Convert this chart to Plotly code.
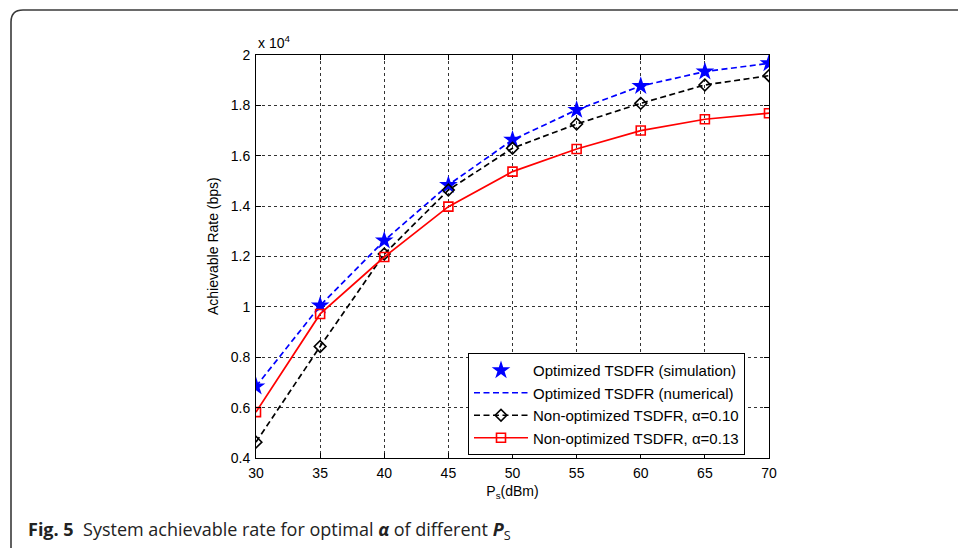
import plotly.graph_objects as go

# Transmit power P_s (dBm)
ps_dbm = [30, 35, 40, 45, 50, 55, 60, 65, 70]

# Achievable rate, in units of 10^4 bps
rate_opt_sim = [0.684, 1.005, 1.263, 1.484, 1.663, 1.782, 1.877, 1.934, 1.967]
rate_opt_num = [0.684, 1.005, 1.263, 1.484, 1.663, 1.782, 1.877, 1.934, 1.967]
rate_alpha_010 = [0.463, 0.843, 1.210, 1.464, 1.630, 1.726, 1.808, 1.881, 1.918]
rate_alpha_013 = [0.582, 0.972, 1.198, 1.398, 1.537, 1.627, 1.700, 1.745, 1.769]

y_ticks = [0.4, 0.6, 0.8, 1.0, 1.2, 1.4, 1.6, 1.8, 2.0]
y_tick_text = ["0.4", "0.6", "0.8", "1", "1.2", "1.4", "1.6", "1.8", "2"]
x_ticks = [30, 35, 40, 45, 50, 55, 60, 65, 70]

W, H = 958, 548
L, R, T, B = 256, 189, 55, 90
PW, PH = W - L - R, H - T - B


def xp(px):
    return (px - L) / PW


def yp(py):
    return (H - B - py) / PH


AXFONT = dict(family="Liberation Sans, Arial, sans-serif", size=14, color="black")
DASH = "6px,3.5px"

fig = go.Figure()

fig.add_trace(go.Scatter(
    x=ps_dbm, y=rate_opt_sim, mode="markers",
    name="Optimized TSDFR (simulation)",
    marker=dict(symbol="star", size=14, color="#0000ff", line=dict(width=0)),
))
fig.add_trace(go.Scatter(
    x=ps_dbm, y=rate_opt_num, mode="lines",
    name="Optimized TSDFR (numerical)",
    line=dict(color="#0000ff", width=1.7, dash=DASH),
))
fig.add_trace(go.Scatter(
    x=ps_dbm, y=rate_alpha_010, mode="lines+markers",
    name="Non-optimized TSDFR, α=0.10",
    line=dict(color="black", width=1.7, dash=DASH),
    marker=dict(symbol="diamond-open", size=9, color="black", line=dict(width=1.6)),
))
fig.add_trace(go.Scatter(
    x=ps_dbm, y=rate_alpha_013, mode="lines+markers",
    name="Non-optimized TSDFR, α=0.13",
    line=dict(color="#ff0000", width=1.7),
    marker=dict(symbol="square-open", size=9, color="#ff0000", line=dict(width=1.6)),
))

axis_common = dict(
    showline=True, linecolor="black", linewidth=1, mirror="allticks",
    ticks="inside", ticklen=5, tickcolor="black", tickwidth=1,
    showgrid=True, gridcolor="#333333", gridwidth=1, griddash="dot",
    zeroline=False, tickfont=AXFONT,
)

fig.update_xaxes(
    range=[30, 70], tickvals=x_ticks, ticklabelstandoff=2,
    title=dict(text="P<sub>s</sub>(dBm)", font=AXFONT, standoff=6),
    **axis_common,
)
fig.update_yaxes(
    range=[0.4, 2.0], tickvals=y_ticks, ticktext=y_tick_text, ticklabelstandoff=2,
    **axis_common,
)

fig.update_layout(
    width=W, height=H,
    margin=dict(l=L, r=R, t=T, b=B, pad=0),
    paper_bgcolor="white", plot_bgcolor="white",
    showlegend=True,
    legend=dict(
        x=xp(468), y=yp(353), xanchor="left", yanchor="top",
        bgcolor="white", bordercolor="black", borderwidth=1,
        font=dict(family="Liberation Sans, Arial, sans-serif", size=15, color="black"),
        itemwidth=54, tracegroupgap=0,
    ),
    shapes=[
        # rounded panel frame around the figure
        dict(
            type="path", xref="paper", yref="paper",
            path=(f"M {xp(11)},{yp(560)} L {xp(11)},{yp(22)} "
                  f"Q {xp(11)},{yp(10)} {xp(23)},{yp(10)} L {xp(970)},{yp(10)}"),
            line=dict(color="#3a3a3a", width=1.6),
        ),
    ],
    annotations=[
        dict(
            xref="paper", yref="paper", x=xp(213), y=yp(246), xanchor="center",
            yanchor="middle", textangle=-90, showarrow=False,
            text="Achievable Rate (bps)", font=AXFONT,
        ),
        dict(
            xref="paper", yref="paper", x=0, y=1, xanchor="left", yanchor="bottom",
            yshift=2, showarrow=False,
            text="x 10<sup>4</sup>", font=AXFONT,
        ),
        dict(
            xref="paper", yref="paper", x=xp(26), y=yp(530), xanchor="left",
            yanchor="middle", showarrow=False, align="left",
            text=("<b>Fig. 5</b>  System achievable rate for optimal "
                  "<b><i>α</i></b> of different <b><i>P</i></b><sub>S</sub>"),
            font=dict(family="Open Sans, Noto Sans, sans-serif", size=18, color="#222222"),
        ),
    ],
)

fig.write_html("out.html")
